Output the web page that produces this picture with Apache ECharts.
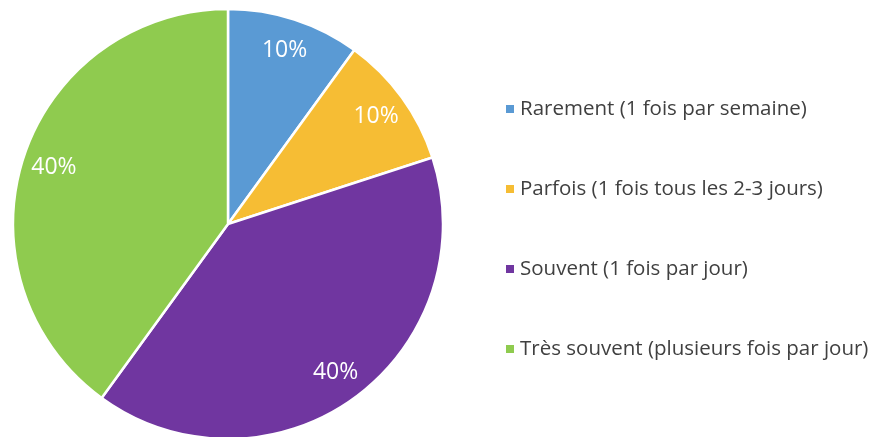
<!DOCTYPE html>
<html><head><meta charset="utf-8">
<script src="https://cdn.jsdelivr.net/npm/echarts@6/dist/echarts.min.js"></script>
<style>html,body{margin:0;padding:0;background:#fff}#c{width:879px;height:437px}</style>
</head><body><div id="c"></div>
<script>
const categories = ["Rarement (1 fois par semaine)", "Parfois (1 fois tous les 2-3 jours)", "Souvent (1 fois par jour)", "Très souvent (plusieurs fois par jour)"];
const values = [10, 10, 40, 40];
const colors = ["#5A9AD4", "#F6BD34", "#7036A0", "#8FCB4F"];

const data = categories.map((n, i) => ({ name: n, value: values[i], itemStyle: { color: colors[i] } }));
const chart = echarts.init(document.getElementById('c'));
chart.setOption({
  animation: false,
  legend: {
    orient: 'vertical', left: 499, top: 92,
    icon: 'rect', itemWidth: 10, itemHeight: 10, itemGap: 56,
    data: categories,
    textStyle: { fontFamily: 'Open Sans', fontSize: 20.5, color: '#404040', lineHeight: 24, padding: [0,0,0,0] }
  },
  series: [{
    type: 'pie', center: [228, 224], radius: [0, 215], startAngle: 90, clockwise: true,
    data: data, label: { show: false }, labelLine: { show: false },
    itemStyle: { borderColor: '#fff', borderWidth: 2.5 }, silent: true
  }, {
    type: 'pie', center: [228, 224], radius: [145, 215], startAngle: 90, clockwise: true,
    data: categories.map((n, i) => ({ name: n, value: values[i] })),
    itemStyle: { color: 'rgba(0,0,0,0)', borderWidth: 0 }, silent: true,
    label: { show: true, position: 'inside', formatter: '{d}%', color: '#fff', fontFamily: 'Open Sans', fontSize: 23, textBorderWidth: 0 },
    labelLine: { show: false }
  }]
});
</script></body></html>
